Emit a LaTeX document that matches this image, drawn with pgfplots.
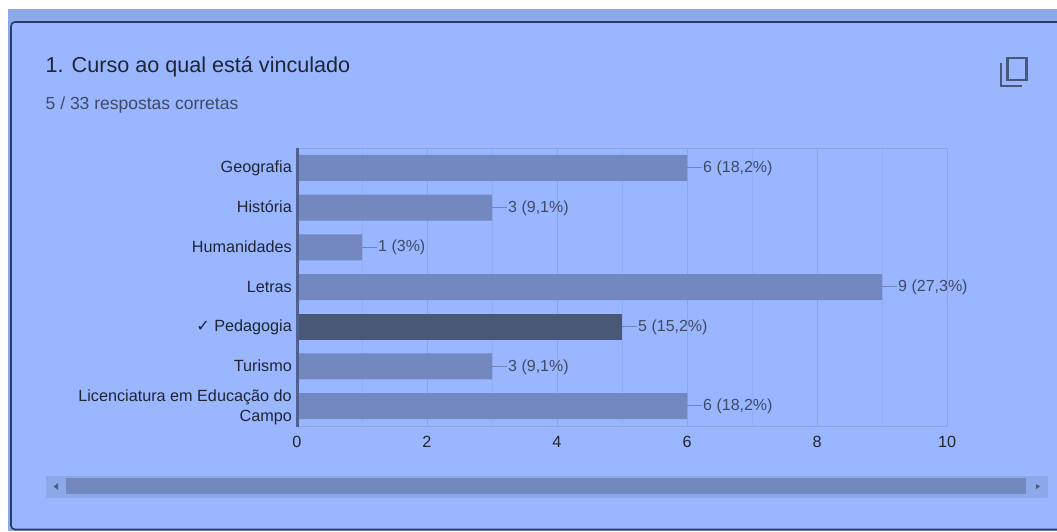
\documentclass[border=0pt]{standalone}
\usepackage{fontspec}
\setmainfont{Liberation Sans}
\newfontfamily\symfont{DejaVu Sans}
\usepackage{pgfplots}
\pgfplotsset{compat=1.18}
\definecolor{panel}{HTML}{9AB6FF}
\definecolor{band}{HTML}{8BA8E8}
\definecolor{edge}{HTML}{2C3C60}
\definecolor{barcol}{HTML}{7288BF}
\definecolor{bardark}{HTML}{4A5878}
\definecolor{gridmaj}{HTML}{8AA5E6}
\definecolor{gridmin}{HTML}{92AEF3}
\definecolor{lab}{HTML}{1F2533}
\definecolor{vallab}{HTML}{3F4A66}
\definecolor{leader}{HTML}{7085BA}
\definecolor{axisline}{HTML}{50618F}
\begin{document}
\begin{tikzpicture}
\useasboundingbox (0pt,0pt) rectangle (1057pt,531pt);
\clip (0pt,0pt) rectangle (1057pt,531pt);
\begin{scope}[x=1pt,y=1pt]
\fill[white] (0,0) rectangle (1057,531);
\fill[band] (8,0) rectangle (1057,522);
\fill[panel,draw=edge,line width=1.6pt,rounded corners=4pt] (11,1.5) -- (11,509) -- (1070,509) -- (1070,1.5) -- cycle;
\node[anchor=base west,inner sep=0pt,text=lab,font=\fontsize{21.6}{24}\selectfont] at (45.5,458) {1. Curso ao qual está vinculado};
\node[anchor=base west,inner sep=0pt,text=vallab,font=\fontsize{17.5}{20}\selectfont] at (45.5,421) {5 / 33 respostas corretas};
% icone de copiar
\draw[bardark,line width=2.4pt] (1007.5,451) rectangle (1026.5,473);
\draw[bardark,line width=2.4pt] (1001,468) -- (1001,445) -- (1022,445);
% barra de rolagem
\fill[band] (45.5,33.3) rectangle (1047.5,55.3);
\fill[barcol] (66,37.5) rectangle (1026,53.3);
\fill[bardark!80!barcol] (58,41) -- (58,48) -- (53.5,44.5) -- cycle;
\fill[bardark] (1036,42) -- (1036,47) -- (1040,44.5) -- cycle;
\end{scope}
\begin{axis}[
  at={(297pt,105pt)},anchor=south west,
  scale only axis,width=650pt,height=278pt,clip=false,
  xmin=0,xmax=10,ymin=-0.5,ymax=6.5,y dir=reverse,
  xtick={0,2,4,6,8,10},minor xtick={1,3,5,7,9},
  ytick={0,1,2,3,4,5,6},
  yticklabels={\strut Geografia,\strut História,\strut Humanidades,\strut Letras,{\strut{\symfont ✓} Pedagogia},\strut Turismo,{Licenciatura em Educação do\\Campo}},
  xmajorgrids,xminorgrids,
  major grid style={gridmaj,line width=0.8pt},
  minor grid style={gridmin,line width=0.8pt},
  axis line style={gridmaj,line width=0.8pt},
  major tick length=0pt,minor tick length=0pt,
  tick align=outside,
  ticklabel pos=left,
  /pgf/number format/assume math mode=true,
  tick label style={text=lab,font=\fontsize{16.2}{20}\selectfont},
  yticklabel style={align=right,inner sep=0pt,xshift=-5pt,yshift=-1pt},
  xticklabel style={inner sep=0pt,yshift=-10pt},
  xbar,bar shift=0pt,bar width=26pt,
  point meta=explicit symbolic,
  nodes near coords={\textcolor{leader}{\rule[4.5pt]{15pt}{0.9pt}}\hspace{1pt}\pgfplotspointmeta},
  every node near coord/.append style={anchor=west,inner sep=0pt,xshift=0pt,yshift=-0.5pt,text=vallab,font=\fontsize{16}{18}\selectfont},
]
\addplot[fill=barcol,draw=none] coordinates {
  (6,0) [6 (18,2\%)]
  (3,1) [3 (9,1\%)]
  (1,2) [1 (3\%)]
  (9,3) [9 (27,3\%)]
  (3,5) [3 (9,1\%)]
  (6,6) [6 (18,2\%)]
};
\addplot[fill=bardark,draw=none] coordinates {
  (5,4) [5 (15,2\%)]
};
\draw[axisline,line width=3pt] (axis cs:0,-0.5) -- (axis cs:0,6.53);
\end{axis}
\end{tikzpicture}
\end{document}
